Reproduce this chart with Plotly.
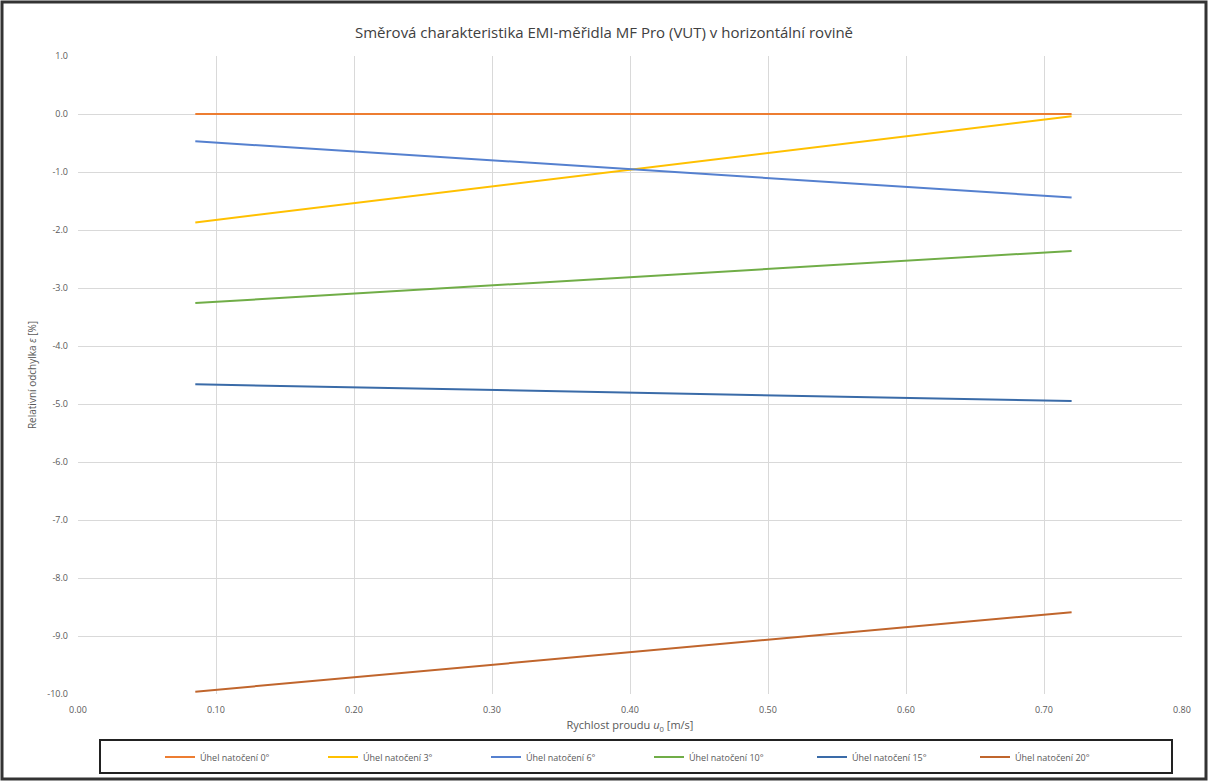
import plotly.graph_objects as go

x_vals = [0.085, 0.72]
series_names = ["Úhel natočení 0°", "Úhel natočení 3°", "Úhel natočení 6°",
                "Úhel natočení 10°", "Úhel natočení 15°", "Úhel natočení 20°"]
y_0 = [0.0, 0.0]
y_3 = [-1.87, -0.04]
y_6 = [-0.47, -1.44]
y_10 = [-3.26, -2.36]
y_15 = [-4.66, -4.95]
y_20 = [-9.96, -8.59]
series_values = [y_0, y_3, y_6, y_10, y_15, y_20]
colors = ["#ED7D31", "#FFC000", "#5580CF", "#70AD47", "#3A6BA8", "#C0652C"]

x_tick_vals = [0.0, 0.1, 0.2, 0.3, 0.4, 0.5, 0.6, 0.7, 0.8]
x_tick_text = ["0.00", "0.10", "0.20", "0.30", "0.40", "0.50", "0.60", "0.70", "0.80"]
y_tick_vals = [1, 0, -1, -2, -3, -4, -5, -6, -7, -8, -9, -10]
y_tick_text = ["1.0", "0.0", "-1.0", "-2.0", "-3.0", "-4.0", "-5.0", "-6.0",
               "-7.0", "-8.0", "-9.0", "-10.0"]

W, H = 1208, 781
L, R, T, B = 78, 26, 56, 87
pw, ph = W - L - R, H - T - B

def px(xp):
    return (xp - L) / pw

def py(yp):
    return (H - B - yp) / ph

fig = go.Figure()
for name, vals, c in zip(series_names, series_values, colors):
    fig.add_trace(go.Scatter(x=x_vals, y=vals, mode="lines", name=name,
                             line=dict(color=c, width=2)))

tickfont = dict(family="Open Sans, sans-serif", size=9, color="#595959")
fig.update_layout(
    width=W, height=H,
    margin=dict(l=L, r=R, t=T, b=B, autoexpand=False),
    plot_bgcolor="white", paper_bgcolor="white",
    title=dict(text="Směrová charakteristika EMI-měřidla MF Pro (VUT) v horizontální rovině",
               x=0.5, xanchor="center", y=1 - 33 / H, yanchor="middle",
               font=dict(family="Open Sans, sans-serif", size=15, color="#404040")),
    xaxis=dict(range=[0, 0.8], tickvals=x_tick_vals, ticktext=x_tick_text, showgrid=True,
               gridcolor="#D9D9D9", gridwidth=1, zeroline=False, showline=False,
               tickfont=tickfont, ticks="", automargin=False, ticklabelstandoff=9,
               title=dict(text="Rychlost proudu <i>u</i><sub>0</sub> [m/s]", standoff=6,
                          font=dict(family="Open Sans, sans-serif", size=11, color="#595959"))),
    yaxis=dict(range=[-10, 1], tickvals=y_tick_vals, ticktext=y_tick_text, showgrid=True,
               gridcolor="#D9D9D9", gridwidth=1, zeroline=False, showline=False,
               tickfont=tickfont, ticks="", automargin=False, ticklabelstandoff=9,
               title=dict(text="Relativní odchylka <i>ε</i> [%]", standoff=8,
                          font=dict(family="Open Sans, sans-serif", size=10, color="#595959"))),
    legend=dict(orientation="h", x=px(160), xanchor="left", y=py(757), yanchor="middle",
                entrywidth=118, entrywidthmode="pixels", itemwidth=30,
                font=dict(family="Open Sans, sans-serif", size=9, color="#595959"),
                bgcolor="rgba(0,0,0,0)"),
    shapes=[
        dict(type="rect", xref="paper", yref="paper",
             x0=px(2), x1=px(1206), y0=py(779), y1=py(2),
             line=dict(color="#333333", width=3), fillcolor="rgba(0,0,0,0)", layer="below"),
        dict(type="rect", xref="paper", yref="paper",
             x0=px(100), x1=px(1172), y0=py(773), y1=py(740),
             line=dict(color="#222222", width=2), fillcolor="rgba(0,0,0,0)"),
    ],
)

fig.write_html("out.html", config={"displayModeBar": False},
               post_script="document.body.style.margin='0';")
